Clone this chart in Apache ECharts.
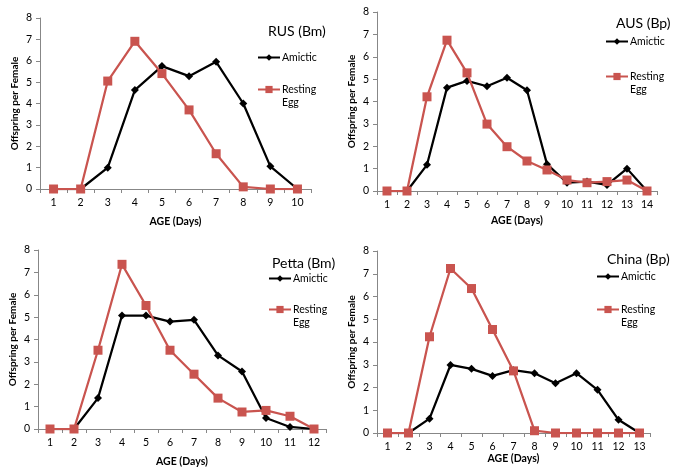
<!DOCTYPE html>
<html><head><meta charset="utf-8">
<script src="https://cdn.jsdelivr.net/npm/echarts@6/dist/echarts.min.js"></script>
<style>html,body{margin:0;padding:0;background:#fff}#c{width:676px;height:470px}</style>
</head><body><div id="c"></div>
<script>
const titles = ['RUS (Bm)', 'AUS (Bp)', 'Petta (Bm)', 'China (Bp)'];
const daysRUS = ['1','2','3','4','5','6','7','8','9','10'];
const daysAUS = ['1','2','3','4','5','6','7','8','9','10','11','12','13','14'];
const daysPetta = ['1','2','3','4','5','6','7','8','9','10','11','12'];
const daysChina = ['1','2','3','4','5','6','7','8','9','10','11','12','13'];
const amicticRUS = [0, 0, 1.0, 4.63, 5.75, 5.28, 5.95, 4.0, 1.06, 0];
const restingRUS = [0, 0, 5.05, 6.91, 5.4, 3.7, 1.65, 0.1, 0, 0];
const amicticAUS = [0, 0, 1.17, 4.62, 4.92, 4.68, 5.06, 4.5, 1.2, 0.37, 0.42, 0.27, 1.0, 0];
const restingAUS = [0, 0, 4.21, 6.74, 5.28, 2.99, 1.98, 1.34, 0.94, 0.49, 0.37, 0.42, 0.49, 0];
const amicticPetta = [0, 0, 1.38, 5.07, 5.07, 4.8, 4.88, 3.29, 2.57, 0.49, 0.09, 0];
const restingPetta = [0, 0, 3.52, 7.36, 5.52, 3.52, 2.45, 1.38, 0.76, 0.83, 0.57, 0];
const amicticChina = [0, 0, 0.63, 2.99, 2.82, 2.51, 2.76, 2.63, 2.19, 2.63, 1.9, 0.58, 0];
const restingChina = [0, 0, 4.23, 7.23, 6.35, 4.55, 2.73, 0.1, 0, 0, 0, 0, 0];
const yTicks = [0, 8, 1]; // min, max, interval

const FONT = 'Lato';
const AX = '#878787';
const RED = '#C9544F';

const grids = [
  {left: 40, top: 18, width: 271, height: 171},
  {left: 377, top: 12, width: 280, height: 179},
  {left: 38, top: 250, width: 288, height: 179},
  {left: 377, top: 251, width: 273, height: 182}
];
const cats = [daysRUS, daysAUS, daysPetta, daysChina];
const amictic = [amicticRUS, amicticAUS, amicticPetta, amicticChina];
const resting = [restingRUS, restingAUS, restingPetta, restingChina];
const titlePos = [{left: 268, top: 24}, {left: 616, top: 16}, {left: 272, top: 256}, {left: 607, top: 252}];
const legAm = [{left: 257, y: 59}, {left: 605, y: 43}, {left: 268, y: 280}, {left: 596, y: 278}];
const legRe = [{left: 257, y: 91}, {left: 605, y: 78}, {left: 268, y: 311}, {left: 596, y: 311}];
const xNameGap = [27, 24, 27, 19];

const option = {
  animation: false,
  backgroundColor: '#fff',
  textStyle: {fontFamily: FONT},
  title: titles.map((t, i) => ({
    text: t, left: titlePos[i].left, top: titlePos[i].top, padding: 0,
    textStyle: {fontFamily: FONT, fontSize: 14, fontWeight: 'normal', color: '#000'}
  })),
  legend: [].concat(
    legAm.map((p, i) => ({
      data: ['Amictic'], left: p.left, top: p.y - 7, padding: 0, orient: 'vertical',
      itemWidth: 22, itemHeight: 8, selectedMode: false,
      textStyle: {fontFamily: FONT, fontSize: 10.5, color: '#000', padding: [0,0,0,-3]}
    })),
    legRe.map((p, i) => ({
      data: ['Resting Egg'], left: p.left, top: p.y - 20, padding: 0, orient: 'vertical',
      itemWidth: 22, itemHeight: 9, selectedMode: false,
      formatter: () => '{e| }\n{a|Resting}\n{a|Egg}',
      textStyle: {fontFamily: FONT, fontSize: 10.5, color: '#000', padding: [0,0,0,-3],
        rich: {e: {lineHeight: 13, fontSize: 10.5}, a: {lineHeight: 13, fontSize: 10.5, fontFamily: FONT, color: '#000'}}}
    }))
  ),
  grid: grids.map(g => Object.assign({containLabel: false}, g)),
  xAxis: cats.map((c, i) => ({
    type: 'category', gridIndex: i, data: c, boundaryGap: true,
    name: 'AGE (Days)', nameLocation: 'middle', nameGap: xNameGap[i],
    nameTextStyle: {fontFamily: FONT, fontSize: 10.5, fontWeight: 'bold', color: '#000'},
    axisLine: {lineStyle: {color: AX, width: 1}},
    axisTick: {show: true, inside: false, length: 4, alignWithLabel: false, lineStyle: {color: AX}},
    axisLabel: {fontFamily: FONT, fontSize: 10.5, color: '#000', margin: 8, interval: 0},
    splitLine: {show: false}
  })),
  yAxis: grids.map((g, i) => ({
    type: 'value', gridIndex: i, min: yTicks[0], max: yTicks[1], interval: yTicks[2],
    name: 'Offspring per Female', nameLocation: 'middle', nameGap: 20,
    nameTextStyle: {fontFamily: FONT, fontSize: 10, fontWeight: 'bold', color: '#000'},
    axisLine: {show: true, lineStyle: {color: AX, width: 1}},
    axisTick: {show: true, inside: false, length: 4, lineStyle: {color: AX}},
    axisLabel: {fontFamily: FONT, fontSize: 10.5, color: '#000', margin: 8},
    splitLine: {show: false}
  })),
  series: [].concat(
    amictic.map((d, i) => ({
      name: 'Amictic', type: 'line', xAxisIndex: i, yAxisIndex: i, data: d,
      symbol: 'diamond', symbolSize: 8, showAllSymbol: true,
      lineStyle: {color: '#000', width: 2.25}, itemStyle: {color: '#000'}, z: 2
    })),
    resting.map((d, i) => ({
      name: 'Resting Egg', type: 'line', xAxisIndex: i, yAxisIndex: i, data: d,
      symbol: 'rect', symbolSize: 9, showAllSymbol: true,
      lineStyle: {color: RED, width: 2.25}, itemStyle: {color: RED}, z: 3
    }))
  )
};
const chart = echarts.init(document.getElementById('c'), null, {renderer: 'canvas'});
chart.setOption(option);
</script>
</body></html>
